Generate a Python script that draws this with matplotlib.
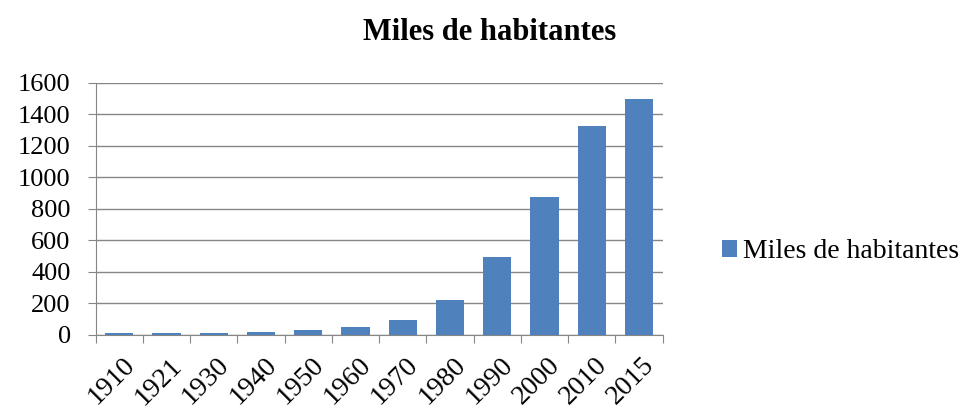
import numpy as np
import matplotlib.pyplot as plt

years = ['1910', '1921', '1930', '1940', '1950', '1960', '1970', '1980', '1990', '2000', '2010', '2015']
habitantes = [10, 10, 10, 20, 28, 47, 95, 222, 495, 876, 1325, 1500]
yticks = [0, 200, 400, 600, 800, 1000, 1200, 1400, 1600]

plt.rcParams['font.family'] = ['Liberation Serif', 'DejaVu Serif']

fig = plt.figure(figsize=(9.76, 4.17), dpi=100)
ax = fig.add_axes([0.098, 0.197, 0.581, 0.604])

x = np.arange(len(years))
ax.bar(x, habitantes, width=0.6, color='#4f81bd', label='Miles de habitantes', zorder=3)

ax.set_xlim(-0.5, len(years) - 0.5)
ax.set_ylim(0, 1600)
ax.set_yticks(yticks)
ax.set_yticklabels([str(v) for v in yticks], fontsize=19)
ax.grid(True, axis='y', color='#868686', linewidth=1, zorder=0)

# ticks between categories, labels at the centres
ax.set_xticks(np.arange(-0.5, len(years) + 0.5, 1), minor=False)
ax.set_xticklabels([])
ax.set_xticks(x + 0.06, minor=True)
ax.set_xticklabels(years, minor=True, rotation=45, fontsize=20, ha='right', va='top',
                   rotation_mode='anchor')
ax.tick_params(axis='x', which='minor', length=0, pad=13)
ax.tick_params(axis='x', which='major', length=6, color='#868686', direction='out')
ax.tick_params(axis='y', length=6, color='#868686', direction='out', pad=12)

for s in ['top', 'right']:
    ax.spines[s].set_visible(False)
for s in ['left', 'bottom']:
    ax.spines[s].set_color('#868686')

fig.suptitle('Miles de habitantes', x=0.502, y=0.957, fontsize=22, fontweight='bold')
ax.legend(loc='center left', bbox_to_anchor=(1.08, 0.33), frameon=False, fontsize=20,
          handlelength=0.55, handleheight=0.55, handletextpad=0.2, borderpad=0)

fig.savefig('out.png', dpi=100)
